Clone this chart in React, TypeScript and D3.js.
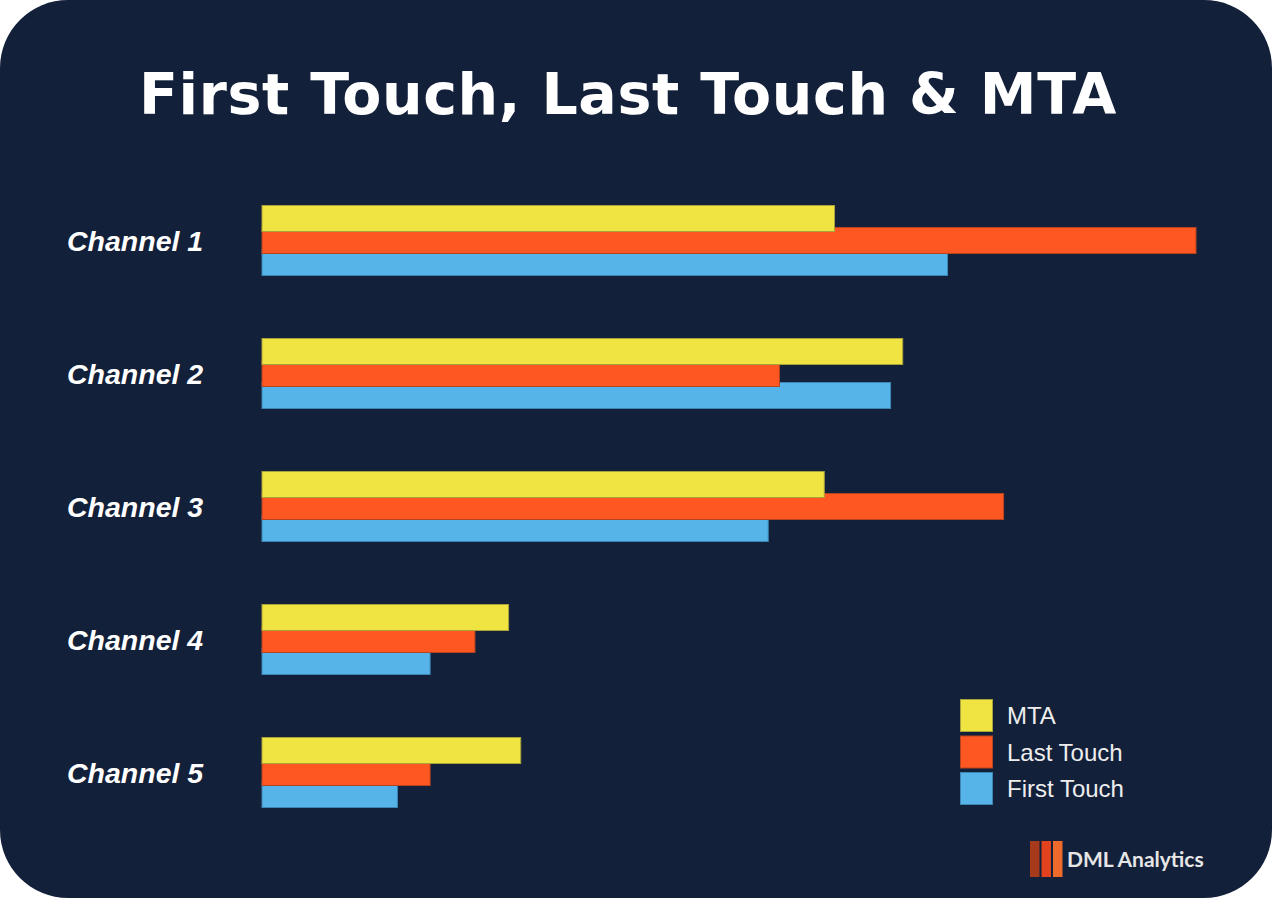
import React, { useEffect, useRef } from "react";
import * as d3 from "d3";

const channels = ["Channel 1", "Channel 2", "Channel 3", "Channel 4", "Channel 5"];
const seriesNames = ["MTA", "Last Touch", "First Touch"];
const seriesColors = ["#f0e442", "#fe5722", "#56b4e9"];
const seriesStrokes = ["#a9a23a", "#b8431f", "#3d86b3"];

const mta = [61.3, 68.6, 60.2, 26.4, 27.7];
const lastTouch = [100, 55.4, 79.4, 22.8, 18.0];
const firstTouch = [73.4, 67.3, 54.2, 18.0, 14.5];

const logoColors = ["#a83a1c", "#e2431e", "#ee6a2a"];

const W = 1273;
const H = 899;

export default function App() {
  const ref = useRef<SVGSVGElement>(null);

  useEffect(() => {
    document.body.style.margin = "0";
    const svg = d3.select(ref.current);
    svg.selectAll("*").remove();

    svg.append("rect")
      .attr("x", 0).attr("y", 0)
      .attr("width", W - 1).attr("height", H - 1)
      .attr("rx", 68).attr("ry", 68)
      .attr("fill", "#13203a");

    svg.append("text")
      .attr("x", 628).attr("y", 114)
      .attr("text-anchor", "middle")
      .attr("font-family", "DejaVu Sans, Verdana, sans-serif")
      .attr("font-weight", "bold")
      .attr("font-size", 57)
      .attr("letter-spacing", 0.6)
      .attr("fill", "#ffffff")
      .text("First Touch, Last Touch & MTA");

    const x = d3.scaleLinear().domain([0, 100]).range([262, 1196]);
    const y = d3.scaleBand().domain(channels).range([205, 205 + 133 * channels.length]);
    const sy = d3.scalePoint().domain(seriesNames).range([0, 44]);
    const barH = 27;

    const values = [mta, lastTouch, firstTouch];
    const rows = channels.flatMap((c, i) =>
      seriesNames.map((s, k) => ({ channel: c, series: s, k, value: values[k][i] }))
    );
    // blue first so red and yellow sit on top of it
    rows.sort((a, b) => b.k - a.k);

    svg.append("g")
      .selectAll("rect")
      .data(rows)
      .join("rect")
      .attr("x", x(0))
      .attr("y", d => (y(d.channel) as number) + (sy(d.series) as number) + 0.5)
      .attr("width", d => x(d.value) - x(0))
      .attr("height", barH - 1)
      .attr("fill", d => seriesColors[d.k])
      .attr("stroke", d => seriesStrokes[d.k])
      .attr("stroke-width", 1);

    svg.append("g")
      .selectAll("text")
      .data(channels)
      .join("text")
      .attr("x", 67)
      .attr("y", d => (y(d) as number) + 38)
      .attr("dominant-baseline", "middle")
      .attr("font-family", "Liberation Sans, Arial, sans-serif")
      .attr("font-weight", "bold")
      .attr("font-style", "italic")
      .attr("font-size", 28.5)
      .attr("fill", "#ffffff")
      .text(d => d);

    const legend = svg.append("g").attr("transform", "translate(960,699)");
    const li = legend.selectAll("g")
      .data(seriesNames)
      .join("g")
      .attr("transform", (d, i) => `translate(0,${i * 36.5})`);
    li.append("rect")
      .attr("x", 0.5).attr("y", 0.5)
      .attr("width", 32).attr("height", 32)
      .attr("fill", (d, i) => seriesColors[i])
      .attr("stroke", (d, i) => seriesStrokes[i]);
    li.append("text")
      .attr("x", 47).attr("y", 19)
      .attr("dominant-baseline", "middle")
      .attr("font-family", "Liberation Sans, Arial, sans-serif")
      .attr("font-size", 24)
      .attr("fill", "#eeeeee")
      .text(d => d);

    const logo = svg.append("g").attr("transform", "translate(1030,841)");
    logo.selectAll("rect")
      .data(logoColors)
      .join("rect")
      .attr("x", (d, i) => i * 11.5)
      .attr("y", 0)
      .attr("width", 9.5)
      .attr("height", 36)
      .attr("fill", d => d);
    logo.append("text")
      .attr("x", 37).attr("y", 26)
      .attr("font-family", "Lato, Open Sans, sans-serif")
      .attr("font-weight", "bold")
      .attr("font-size", 21)
      .attr("fill", "#e6e6e6")
      .text("DML Analytics");
  }, []);

  return <svg ref={ref} width={W} height={H} style={{ display: "block" }} />;
}
